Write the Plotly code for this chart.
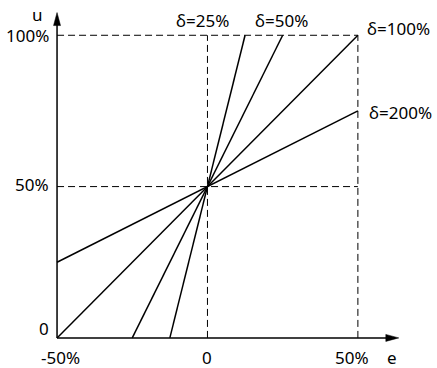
import plotly.graph_objects as go

# Data
deltas = ["δ=25%", "δ=50%", "δ=100%", "δ=200%"]
e_start = [-12.5, -25, -50, -50]
e_end = [12.5, 25, 50, 50]
u_start = [0, 0, 0, 25]
u_end = [100, 100, 100, 75]

x_tick_vals = [-50, 0, 50]
x_tick_text = ["-50%", "0", "50%"]
y_tick_vals = [0, 50, 100]
y_tick_text = ["0", "50%", "100%"]

# label positions for delta labels (data coords)
label_x = [-11.2, 15.0, 52.5, 52.9]
label_y = [104.8, 104.8, 102.3, 74.5]

FONT = "Noto Sans"
fs = 17

fig = go.Figure()
for i in range(len(deltas)):
    fig.add_trace(go.Scatter(x=[e_start[i], e_end[i]], y=[u_start[i], u_end[i]],
                             mode="lines", line=dict(color="black", width=1.5),
                             showlegend=False, hoverinfo="skip"))

shapes = []
dash = "7px,4px"
# dashed guides
shapes.append(dict(type="line", x0=-50, x1=50, y0=100, y1=100, line=dict(color="black", width=1, dash=dash)))
shapes.append(dict(type="line", x0=-50, x1=50, y0=50, y1=50, line=dict(color="black", width=1, dash=dash)))
shapes.append(dict(type="line", x0=0, x1=0, y0=0, y1=100, line=dict(color="black", width=1, dash=dash)))
shapes.append(dict(type="line", x0=50, x1=50, y0=0, y1=100, line=dict(color="black", width=1, dash=dash)))
# axes
x_tip = 63.6
y_tip = 107.5
shapes.append(dict(type="line", x0=-50, x1=x_tip - 2, y0=0, y1=0, line=dict(color="black", width=1.5)))
shapes.append(dict(type="line", x0=-50, x1=-50, y0=0, y1=y_tip - 2, line=dict(color="black", width=1.5)))
# arrowheads
shapes.append(dict(type="path", xref="x", yref="y", xsizemode="pixel", ysizemode="pixel",
                   xanchor=x_tip, yanchor=0, path="M0,0 L-13,3.5 L-13,-3.5 Z",
                   fillcolor="black", line=dict(color="black", width=0.5)))
shapes.append(dict(type="path", xref="x", yref="y", xsizemode="pixel", ysizemode="pixel",
                   xanchor=-50, yanchor=y_tip, path="M0,0 L3.5,-13 L-3.5,-13 Z",
                   fillcolor="black", line=dict(color="black", width=0.5)))

annotations = []
for i in range(len(deltas)):
    annotations.append(dict(x=label_x[i], y=label_y[i], text=deltas[i], showarrow=False,
                            xanchor="left", yanchor="middle", font=dict(family=FONT, size=fs, color="black")))
x_label_dx = [3, 0, -6]
for v, t, dx in zip(x_tick_vals, x_tick_text, x_label_dx):
    annotations.append(dict(x=v, y=0, text=t, showarrow=False, xanchor="center", yanchor="top",
                            yshift=-6, xshift=dx, font=dict(family=FONT, size=fs, color="black")))
y_label_dy = [9, 2, 0]
for v, t, dy in zip(y_tick_vals, y_tick_text, y_label_dy):
    annotations.append(dict(x=-50, y=v, text=t, showarrow=False, xanchor="right", yanchor="middle",
                            xshift=-6, yshift=dy, font=dict(family=FONT, size=fs, color="black")))
annotations.append(dict(x=-50, y=y_tip, text="u", showarrow=False, xanchor="right", yanchor="middle",
                        xshift=-12, yshift=-2, font=dict(family=FONT, size=fs, color="black")))
annotations.append(dict(x=x_tip, y=0, text="e", showarrow=False, xanchor="center", yanchor="top",
                        xshift=-7, yshift=-6, font=dict(family=FONT, size=fs, color="black")))

fig.update_layout(
    width=437, height=368, autosize=False,
    margin=dict(l=42, r=34, t=5, b=21),
    paper_bgcolor="white", plot_bgcolor="white",
    xaxis=dict(range=[-55, 65], visible=False, fixedrange=True),
    yaxis=dict(range=[-3, 110], visible=False, fixedrange=True),
    shapes=shapes, annotations=annotations,
    font=dict(family=FONT, size=fs, color="black"),
)

fig.write_html("out.html", config={"displayModeBar": False},
               post_script="document.body.style.margin='0';document.body.style.overflow='hidden';")
